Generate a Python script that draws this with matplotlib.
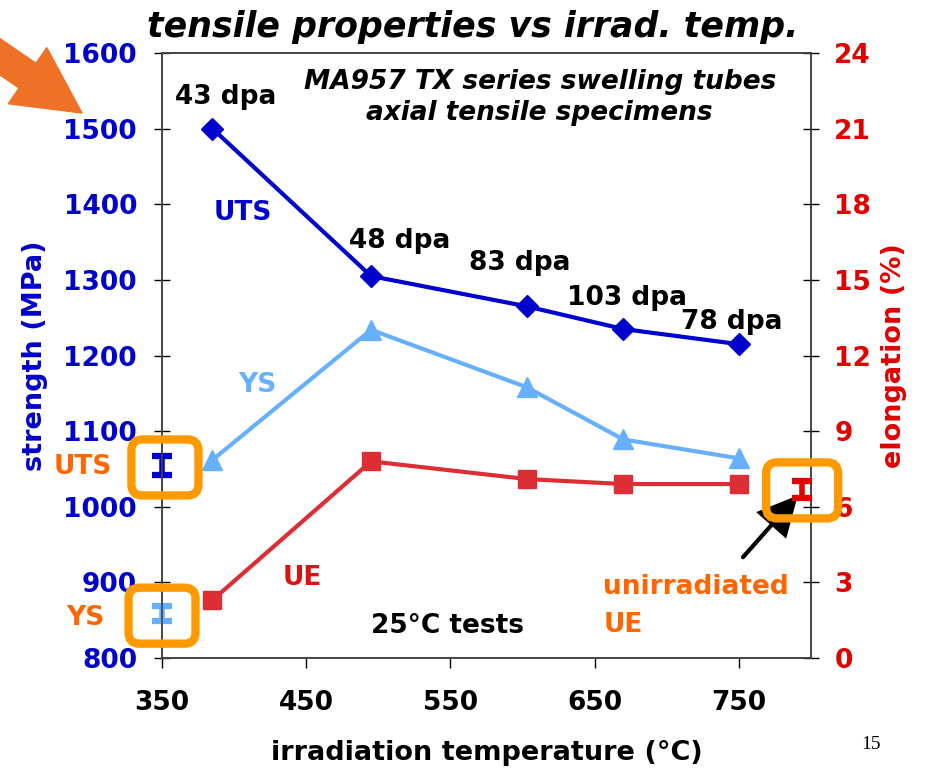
import matplotlib
matplotlib.use("Agg")
import matplotlib.pyplot as plt
import matplotlib.transforms as mtransforms
from matplotlib.patches import FancyBboxPatch, FancyArrow

# irradiated MA957 tubes, tested at 25 C
temps = [385, 495, 603, 670, 750]
uts = [1500, 1305, 1265, 1235, 1215]
ys = [1062, 1234, 1158, 1089, 1064]
ue = [2.3, 7.8, 7.1, 6.9, 6.9]
dose_labels = ["43 dpa", "48 dpa", "83 dpa", "103 dpa", "78 dpa"]
dose_offsets = [(13, 32), (29, 35), (-7, 43), (4, 31), (-7, 22)]

# unirradiated reference values (value, scatter)
unirr_uts = (1055, 12.5)
unirr_ys = (859, 10)
unirr_ue_temp = 794
unirr_ue = (6.7, 0.34)

x_ticks = [350, 450, 550, 650, 750]
strength_ticks = list(range(800, 1601, 100))
elong_ticks = list(range(0, 25, 3))

dark_blue = "#0000CC"
light_blue = "#66B0FF"
red = "#DD2E35"
tick_red = "#E00000"
box_orange = "#FF9900"
text_orange = "#FF6600"
fs = 19

plt.rcParams["font.family"] = "DejaVu Sans"
plt.rcParams["font.weight"] = "bold"

fig = plt.figure(figsize=(9.27, 7.68), dpi=100)
ax = fig.add_axes([0.1748, 0.1432, 0.6998, 0.7878])
ax2 = ax.twinx()

ax.plot(temps, uts, color=dark_blue, lw=3, marker="D", ms=11, zorder=3)
ax.plot(temps, ys, color=light_blue, lw=3, marker="^", ms=14, zorder=3)
ax2.plot(temps, ue, color=red, lw=3, marker="s", ms=13, zorder=3)

for t, u, lab, off in zip(temps, uts, dose_labels, dose_offsets):
    ax.annotate(lab, (t, u), xytext=off, textcoords="offset pixels",
                ha="center", va="center", fontsize=fs, fontweight="bold")

bar_style = dict(elinewidth=4, capsize=7.5, capthick=4.5, clip_on=False, zorder=4)
ax.errorbar([350], [unirr_uts[0]], yerr=[unirr_uts[1]], color=dark_blue, **bar_style)
ax.errorbar([350], [unirr_ys[0]], yerr=[unirr_ys[1]], color=light_blue, **bar_style)
ax2.errorbar([unirr_ue_temp], [unirr_ue[0]], yerr=[unirr_ue[1]], color=tick_red,
             **bar_style)

ax.set_xlim(350, 800)
ax.set_ylim(800, 1600)
ax2.set_ylim(0, 24)
ax.set_xticks(x_ticks)
ax.set_yticks(strength_ticks)
ax2.set_yticks(elong_ticks)

for spine in list(ax.spines.values()) + list(ax2.spines.values()):
    spine.set_color("#444444")
    spine.set_linewidth(1.2)

ax.tick_params(axis="x", direction="out", length=7, width=1, pad=16,
               labelsize=19, labelcolor="black")
ax.tick_params(axis="y", direction="inout", length=12, width=1, pad=12,
               labelsize=19, labelcolor=dark_blue)
ax2.tick_params(axis="y", direction="inout", length=12, width=1, pad=11,
                labelsize=19, labelcolor=tick_red)
for lab in ax.get_xticklabels() + ax.get_yticklabels() + ax2.get_yticklabels():
    lab.set_fontweight("bold")

ax.set_xlabel("irradiation temperature (°C)", fontsize=19.5, fontweight="bold",
              labelpad=17)
ax.set_ylabel("strength (MPa)", fontsize=19.5, fontweight="bold", color=dark_blue,
              labelpad=11)
ax2.set_ylabel("elongation (%)", fontsize=19.5, fontweight="bold", color=tick_red,
               rotation=90, labelpad=7)

fig.text(0.51, 0.965, "tensile properties vs irrad. temp.", ha="center", va="center",
         fontsize=25, fontweight="bold", style="italic")
ax.text(612, 1541, "MA957 TX series swelling tubes\naxial tensile specimens",
        ha="center", va="center", fontsize=19, fontweight="bold", style="italic",
        linespacing=1.25)

ax.text(406, 1388, "UTS", color=dark_blue, fontsize=fs, fontweight="bold",
        ha="center", va="center")
ax.text(416, 1161, "YS", color=light_blue, fontsize=fs, fontweight="bold",
        ha="center", va="center")
ax.text(447, 906, "UE", color="#DD1111", fontsize=fs, fontweight="bold",
        ha="center", va="center")
ax.text(548, 843, "25°C tests", fontsize=fs, fontweight="bold",
        ha="center", va="center")
ax2.text(656, 2.05, "unirradiated\nUE", color=text_orange, fontsize=fs,
         fontweight="bold", ha="left", va="center", linespacing=1.6)
ax.text(315, 1053, "UTS", color=text_orange, fontsize=fs, fontweight="bold",
        ha="right", va="center", clip_on=False)
ax.text(310, 853, "YS", color=text_orange, fontsize=fs, fontweight="bold",
        ha="right", va="center", clip_on=False)

# pointer to the unirradiated UE bar
ax2.annotate("", xy=(791, 6.45), xytext=(753, 4.0),
             arrowprops=dict(arrowstyle="-|>,head_length=1.2,head_width=0.6",
                             mutation_scale=20, color="black", lw=3,
                             shrinkA=0, shrinkB=0, joinstyle="miter"))


def rounded_box(axis, x, y, w, h):
    # box size in inches, centred on a data point
    tr = fig.dpi_scale_trans + mtransforms.ScaledTranslation(x, y, axis.transData)
    box = FancyBboxPatch((-w / 2, -h / 2), w, h,
                         boxstyle="round,pad=0,rounding_size=0.11",
                         transform=tr, fill=False, ec=box_orange, lw=6,
                         clip_on=False, zorder=5)
    fig.add_artist(box)


rounded_box(ax, 352, unirr_uts[0] - 3, 0.67, 0.56)
rounded_box(ax, 350, unirr_ys[0] - 3, 0.67, 0.56)
rounded_box(ax2, unirr_ue_temp, unirr_ue[0] - 0.05, 0.72, 0.56)

# orange pointer toward the strength axis
pointer = FancyArrow(-42, 740, 124, -85, width=30, head_width=68, head_length=66,
                     length_includes_head=True, color="#EE7126",
                     transform=mtransforms.IdentityTransform())
fig.add_artist(pointer)

fig.text(0.94, 0.03, "15", family="Liberation Serif", fontweight="normal",
         fontsize=14, ha="center", va="center")

fig.savefig("out.png", dpi=100)
